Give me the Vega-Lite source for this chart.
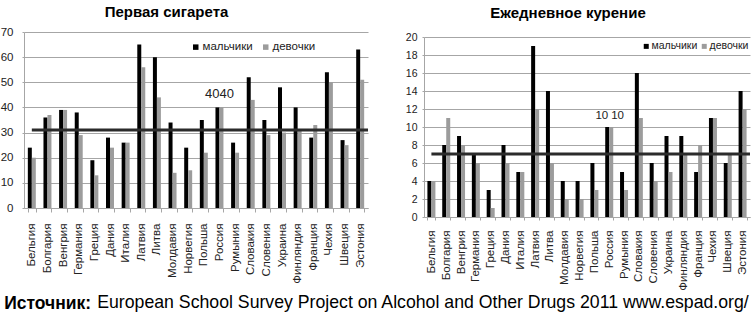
{
  "$schema": "https://vega.github.io/schema/vega-lite/v6.json",
  "padding": {"left": 0, "top": 5, "right": 0, "bottom": 0},
  "config": {
    "font": "Liberation Sans",
    "view": {"stroke": null},
    "axis": {"gridColor": "#a6a6a6", "domainColor": "#a6a6a6", "tickColor": "#a6a6a6", "labelColor": "#222222", "gridWidth": 1, "domainWidth": 1, "title": null, "labelOverlap": false},
    "axisX": {"labelAngle": -90, "labelAlign": "right", "labelBaseline": "middle", "tickBand": "extent", "grid": false},
    "axisY": {"grid": true, "tickSize": 2},
    "legend": {"padding": 0}
  },
  "datasets": {
    "first": [
      {"country": "Бельгия", "sex": "мальчики", "value": 24}, {"country": "Бельгия", "sex": "девочки", "value": 20},
      {"country": "Болгария", "sex": "мальчики", "value": 36}, {"country": "Болгария", "sex": "девочки", "value": 37},
      {"country": "Венгрия", "sex": "мальчики", "value": 39}, {"country": "Венгрия", "sex": "девочки", "value": 39},
      {"country": "Германия", "sex": "мальчики", "value": 38}, {"country": "Германия", "sex": "девочки", "value": 29},
      {"country": "Греция", "sex": "мальчики", "value": 19}, {"country": "Греция", "sex": "девочки", "value": 13},
      {"country": "Дания", "sex": "мальчики", "value": 28}, {"country": "Дания", "sex": "девочки", "value": 24},
      {"country": "Италия", "sex": "мальчики", "value": 26}, {"country": "Италия", "sex": "девочки", "value": 26},
      {"country": "Латвия", "sex": "мальчики", "value": 65}, {"country": "Латвия", "sex": "девочки", "value": 56},
      {"country": "Литва", "sex": "мальчики", "value": 60}, {"country": "Литва", "sex": "девочки", "value": 44},
      {"country": "Молдавия", "sex": "мальчики", "value": 34}, {"country": "Молдавия", "sex": "девочки", "value": 14},
      {"country": "Норвегия", "sex": "мальчики", "value": 24}, {"country": "Норвегия", "sex": "девочки", "value": 15},
      {"country": "Польша", "sex": "мальчики", "value": 35}, {"country": "Польша", "sex": "девочки", "value": 22},
      {"country": "Россия", "sex": "мальчики", "value": 40}, {"country": "Россия", "sex": "девочки", "value": 40},
      {"country": "Румыния", "sex": "мальчики", "value": 26}, {"country": "Румыния", "sex": "девочки", "value": 22},
      {"country": "Словакия", "sex": "мальчики", "value": 52}, {"country": "Словакия", "sex": "девочки", "value": 43},
      {"country": "Словения", "sex": "мальчики", "value": 35}, {"country": "Словения", "sex": "девочки", "value": 29},
      {"country": "Украина", "sex": "мальчики", "value": 48}, {"country": "Украина", "sex": "девочки", "value": 30},
      {"country": "Финляндия", "sex": "мальчики", "value": 40}, {"country": "Финляндия", "sex": "девочки", "value": 31},
      {"country": "Франция", "sex": "мальчики", "value": 28}, {"country": "Франция", "sex": "девочки", "value": 33},
      {"country": "Чехия", "sex": "мальчики", "value": 54}, {"country": "Чехия", "sex": "девочки", "value": 50},
      {"country": "Швеция", "sex": "мальчики", "value": 27}, {"country": "Швеция", "sex": "девочки", "value": 25},
      {"country": "Эстония", "sex": "мальчики", "value": 63}, {"country": "Эстония", "sex": "девочки", "value": 51}
    ],
    "daily": [
      {"country": "Бельгия", "sex": "мальчики", "value": 4}, {"country": "Бельгия", "sex": "девочки", "value": 4},
      {"country": "Болгария", "sex": "мальчики", "value": 8}, {"country": "Болгария", "sex": "девочки", "value": 11},
      {"country": "Венгрия", "sex": "мальчики", "value": 9}, {"country": "Венгрия", "sex": "девочки", "value": 8},
      {"country": "Германия", "sex": "мальчики", "value": 7}, {"country": "Германия", "sex": "девочки", "value": 6},
      {"country": "Греция", "sex": "мальчики", "value": 3}, {"country": "Греция", "sex": "девочки", "value": 1},
      {"country": "Дания", "sex": "мальчики", "value": 8}, {"country": "Дания", "sex": "девочки", "value": 6},
      {"country": "Италия", "sex": "мальчики", "value": 5}, {"country": "Италия", "sex": "девочки", "value": 5},
      {"country": "Латвия", "sex": "мальчики", "value": 19}, {"country": "Латвия", "sex": "девочки", "value": 12},
      {"country": "Литва", "sex": "мальчики", "value": 14}, {"country": "Литва", "sex": "девочки", "value": 6},
      {"country": "Молдавия", "sex": "мальчики", "value": 4}, {"country": "Молдавия", "sex": "девочки", "value": 2},
      {"country": "Норвегия", "sex": "мальчики", "value": 4}, {"country": "Норвегия", "sex": "девочки", "value": 2},
      {"country": "Польша", "sex": "мальчики", "value": 6}, {"country": "Польша", "sex": "девочки", "value": 3},
      {"country": "Россия", "sex": "мальчики", "value": 10}, {"country": "Россия", "sex": "девочки", "value": 10},
      {"country": "Румыния", "sex": "мальчики", "value": 5}, {"country": "Румыния", "sex": "девочки", "value": 3},
      {"country": "Словакия", "sex": "мальчики", "value": 16}, {"country": "Словакия", "sex": "девочки", "value": 11},
      {"country": "Словения", "sex": "мальчики", "value": 6}, {"country": "Словения", "sex": "девочки", "value": 4},
      {"country": "Украина", "sex": "мальчики", "value": 9}, {"country": "Украина", "sex": "девочки", "value": 5},
      {"country": "Финляндия", "sex": "мальчики", "value": 9}, {"country": "Финляндия", "sex": "девочки", "value": 7},
      {"country": "Франция", "sex": "мальчики", "value": 5}, {"country": "Франция", "sex": "девочки", "value": 8},
      {"country": "Чехия", "sex": "мальчики", "value": 11}, {"country": "Чехия", "sex": "девочки", "value": 11},
      {"country": "Швеция", "sex": "мальчики", "value": 6}, {"country": "Швеция", "sex": "девочки", "value": 7},
      {"country": "Эстония", "sex": "мальчики", "value": 14}, {"country": "Эстония", "sex": "девочки", "value": 12}
    ],
    "first_avg": [{"avg": 31}],
    "daily_avg": [{"avg": 7}]
  },
  "title": {"text": "European School Survey Project on Alcohol and Other Drugs 2011 www.espad.org/", "orient": "bottom", "anchor": "start", "fontSize": 17.7, "fontWeight": "normal", "baseline": "alphabetic", "offset": 0, "dx": 97, "dy": -4, "color": "#000000"},
  "vconcat": [
    {
      "title": {"text": "Источник:", "orient": "bottom", "anchor": "start", "fontSize": 17.5, "fontWeight": "bold", "baseline": "alphabetic", "offset": 18.5, "dx": 4, "color": "#000000"},
      "spacing": 35,
      "resolve": {"scale": {"x": "independent", "y": "independent", "color": "independent", "xOffset": "independent"}, "legend": {"color": "independent"}},
      "hconcat": [
        {
          "width": 344,
          "height": 176,
          "title": {"text": "Первая сигарета", "fontSize": 15, "fontWeight": "bold", "anchor": "middle", "dx": -29.5, "baseline": "alphabetic", "offset": -6, "color": "#000000"},
          "layer": [
            {
              "data": {"name": "first"},
              "mark": {"type": "bar"},
              "encoding": {
                "x": {"field": "country", "type": "nominal", "sort": null, "scale": {"paddingInner": 0.49, "paddingOuter": 0.245},
                  "axis": {"labelFontSize": 11.5, "labelPadding": 11, "tickSize": 4}},
                "xOffset": {"field": "sex", "type": "nominal", "sort": ["мальчики", "девочки"], "scale": {"paddingInner": 0, "paddingOuter": 0}},
                "y": {"field": "value", "type": "quantitative", "scale": {"domain": [0, 70], "nice": false},
                  "axis": {"values": [0, 10, 20, 30, 40, 50, 60, 70], "labelFontSize": 11.5, "labelPadding": 9}},
                "color": {"field": "sex", "type": "nominal", "sort": ["мальчики", "девочки"],
                  "scale": {"domain": ["мальчики", "девочки"], "range": ["#000000", "#9c9c9c"]},
                  "legend": {"title": null, "orient": "none", "legendX": 166, "legendY": 9, "direction": "horizontal", "symbolType": "square", "symbolSize": 30, "symbolStrokeWidth": 0, "labelFontSize": 11.5, "labelOffset": 1, "columnPadding": 7, "labelColor": "#222222"}}
              }
            },
            {
              "data": {"name": "first_avg"},
              "mark": {"type": "rule", "color": "#2b2b2b", "strokeWidth": 3},
              "encoding": {
                "x": {"datum": "Бельгия", "type": "nominal", "bandPosition": 0.5,
                  "axis": {"labelFontSize": 11.5, "labelPadding": 11, "tickSize": 4}},
                "x2": {"value": "width"},
                "y": {"field": "avg", "type": "quantitative",
                  "axis": {"values": [0, 10, 20, 30, 40, 50, 60, 70], "labelFontSize": 11.5, "labelPadding": 9}}
              }
            },
            {
              "data": {"name": "first"},
              "transform": [{"filter": "datum.country === 'Россия' && datum.sex === 'мальчики'"}],
              "mark": {"type": "text", "align": "right", "baseline": "alphabetic", "dy": -9, "dx": 2, "fontSize": 13, "color": "#222222"},
              "encoding": {
                "x": {"field": "country", "type": "nominal", "sort": null,
                  "axis": {"labelFontSize": 11.5, "labelPadding": 11, "tickSize": 4}},
                "xOffset": {"field": "sex", "type": "nominal", "sort": ["мальчики", "девочки"]},
                "y": {"field": "value", "type": "quantitative",
                  "axis": {"values": [0, 10, 20, 30, 40, 50, 60, 70], "labelFontSize": 11.5, "labelPadding": 9}},
                "text": {"field": "value", "type": "quantitative"}
              }
            },
            {
              "data": {"name": "first"},
              "transform": [{"filter": "datum.country === 'Россия' && datum.sex === 'девочки'"}],
              "mark": {"type": "text", "align": "left", "baseline": "alphabetic", "dy": -9, "dx": -2, "fontSize": 13, "color": "#222222"},
              "encoding": {
                "x": {"field": "country", "type": "nominal", "sort": null,
                  "axis": {"labelFontSize": 11.5, "labelPadding": 11, "tickSize": 4}},
                "xOffset": {"field": "sex", "type": "nominal", "sort": ["мальчики", "девочки"]},
                "y": {"field": "value", "type": "quantitative",
                  "axis": {"values": [0, 10, 20, 30, 40, 50, 60, 70], "labelFontSize": 11.5, "labelPadding": 9}},
                "text": {"field": "value", "type": "quantitative"}
              }
            }
          ]
        },
        {
          "width": 326,
          "height": 185,
          "title": {"text": "Ежедневное курение", "fontSize": 15, "fontWeight": "bold", "anchor": "middle", "dx": -19, "baseline": "alphabetic", "offset": -1, "color": "#000000"},
          "layer": [
            {
              "data": {"name": "daily"},
              "mark": {"type": "bar"},
              "encoding": {
                "x": {"field": "country", "type": "nominal", "sort": null, "scale": {"paddingInner": 0.46, "paddingOuter": 0.23},
                  "axis": {"labelFontSize": 11.5, "labelPadding": 10, "tickSize": 3}},
                "xOffset": {"field": "sex", "type": "nominal", "sort": ["мальчики", "девочки"], "scale": {"paddingInner": 0, "paddingOuter": 0}},
                "y": {"field": "value", "type": "quantitative", "scale": {"domain": [0, 20], "nice": false, "range": [185, 5]},
                  "axis": {"values": [0, 2, 4, 6, 8, 10, 12, 14, 16, 18, 20], "labelFontSize": 10.5, "labelPadding": 5}},
                "color": {"field": "sex", "type": "nominal", "sort": ["мальчики", "девочки"],
                  "scale": {"domain": ["мальчики", "девочки"], "range": ["#000000", "#9c9c9c"]},
                  "legend": {"title": null, "orient": "none", "legendX": 217, "legendY": 9, "direction": "horizontal", "symbolType": "square", "symbolSize": 25, "symbolStrokeWidth": 0, "labelFontSize": 10.5, "labelOffset": 0, "columnPadding": 1, "labelColor": "#222222"}}
              }
            },
            {
              "data": {"name": "daily_avg"},
              "mark": {"type": "rule", "color": "#2b2b2b", "strokeWidth": 3},
              "encoding": {
                "x": {"datum": "Бельгия", "type": "nominal", "bandPosition": 0.5,
                  "axis": {"labelFontSize": 11.5, "labelPadding": 10, "tickSize": 3}},
                "x2": {"value": "width"},
                "y": {"field": "avg", "type": "quantitative",
                  "axis": {"values": [0, 2, 4, 6, 8, 10, 12, 14, 16, 18, 20], "labelFontSize": 10.5, "labelPadding": 5}}
              }
            },
            {
              "data": {"name": "daily"},
              "transform": [{"filter": "datum.country === 'Россия' && datum.sex === 'мальчики'"}],
              "mark": {"type": "text", "align": "right", "baseline": "alphabetic", "dy": -8, "dx": 1, "fontSize": 11.5, "color": "#222222"},
              "encoding": {
                "x": {"field": "country", "type": "nominal", "sort": null,
                  "axis": {"labelFontSize": 11.5, "labelPadding": 10, "tickSize": 3}},
                "xOffset": {"field": "sex", "type": "nominal", "sort": ["мальчики", "девочки"]},
                "y": {"field": "value", "type": "quantitative",
                  "axis": {"values": [0, 2, 4, 6, 8, 10, 12, 14, 16, 18, 20], "labelFontSize": 10.5, "labelPadding": 5}},
                "text": {"field": "value", "type": "quantitative"}
              }
            },
            {
              "data": {"name": "daily"},
              "transform": [{"filter": "datum.country === 'Россия' && datum.sex === 'девочки'"}],
              "mark": {"type": "text", "align": "left", "baseline": "alphabetic", "dy": -8, "dx": 0, "fontSize": 11.5, "color": "#222222"},
              "encoding": {
                "x": {"field": "country", "type": "nominal", "sort": null,
                  "axis": {"labelFontSize": 11.5, "labelPadding": 10, "tickSize": 3}},
                "xOffset": {"field": "sex", "type": "nominal", "sort": ["мальчики", "девочки"]},
                "y": {"field": "value", "type": "quantitative",
                  "axis": {"values": [0, 2, 4, 6, 8, 10, 12, 14, 16, 18, 20], "labelFontSize": 10.5, "labelPadding": 5}},
                "text": {"field": "value", "type": "quantitative"}
              }
            }
          ]
        }
      ]
    }
  ]
}
